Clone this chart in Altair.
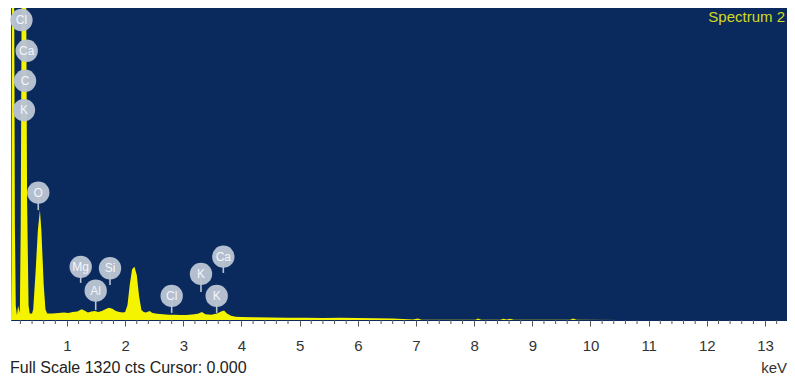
import altair as alt
import pandas as pd

# ---- spectrum (keV, counts) ----
kev = [0.038, 0.045, 0.055, 0.09, 0.105, 0.12, 0.14, 0.16, 0.19, 0.205, 0.225, 0.295,
       0.315, 0.34, 0.36, 0.40, 0.42, 0.46, 0.50, 0.535, 0.56, 0.60, 0.63, 0.66, 0.70,
       0.75, 0.85, 0.95, 1.02, 1.10, 1.18, 1.25, 1.30, 1.36, 1.42, 1.48, 1.54, 1.60,
       1.66, 1.72, 1.78, 1.84, 1.90, 1.96, 2.00, 2.04, 2.08, 2.12, 2.16, 2.20, 2.24,
       2.28, 2.32, 2.36, 2.42, 2.47, 2.55, 2.65, 2.75, 2.85, 2.95, 3.05, 3.15, 3.25,
       3.32, 3.38, 3.48, 3.58, 3.65, 3.70, 3.75, 3.82, 3.90, 4.00, 4.20, 4.50, 4.80,
       5.10, 5.40, 5.70, 6.00, 6.30, 6.60, 6.95, 7.03, 7.10, 7.50, 8.02, 8.07, 8.12,
       8.45, 8.50, 8.56, 8.62, 8.68, 9.65, 9.70, 9.76, 10.50, 13.40]
counts = [0, 200, 1600, 1600, 400, 60, 20, 60, 30, 400, 1600, 1600,
          500, 60, 28, 28, 45, 200, 380, 465, 380, 150, 45, 28, 28,
          28, 30, 32, 30, 34, 36, 46, 40, 32, 36, 38, 34, 38,
          46, 52, 48, 38, 34, 32, 34, 62, 150, 215, 225, 190, 100,
          42, 34, 32, 38, 30, 26, 24, 22, 22, 21, 21, 23, 26,
          34, 24, 22, 28, 36, 40, 28, 18, 14, 13, 12, 11, 10,
          9, 8, 9, 8, 7, 6, 2, 6, 1, 1, 1, 6, 1,
          1, 5, 2, 5, 1, 1, 6, 1, 0, 0]

# ---- element markers ----
el_name = ["Cl", "Ca", "C", "K", "O", "Mg", "Al", "Si", "Cl", "K", "Ca", "K"]
el_kev = [0.218, 0.308, 0.279, 0.261, 0.507, 1.236, 1.494, 1.740, 2.80, 3.304, 3.688, 3.574]
el_cts = [1269, 1139, 1012, 888, 539, 225, 124, 219, 102, 195, 268, 102]
el_stem = [1240, 1100, 980, 840, 465, 157, 42, 148, 30, 118, 199, 30]

major_ticks = [1, 2, 3, 4, 5, 6, 7, 8, 9, 10, 11, 12, 13]
minor_ticks = [0.2, 0.4, 0.6, 0.8, 1.2, 1.4, 1.6, 1.8, 2.2, 2.4, 2.6, 2.8, 3.2, 3.4, 3.6, 3.8,
               4.2, 4.4, 4.6, 4.8, 5.2, 5.4, 5.6, 5.8, 6.2, 6.4, 6.6, 6.8, 7.2, 7.4, 7.6, 7.8,
               8.2, 8.4, 8.6, 8.8, 9.2, 9.4, 9.6, 9.8, 10.2, 10.4, 10.6, 10.8, 11.2, 11.4,
               11.6, 11.8, 12.2, 12.4, 12.6, 12.8, 13.2]
x_domain = [0.038, 13.378]
y_domain = [0, 1320]

title_txt = ["Spectrum 2"]
footer_txt = ["Full Scale 1320 cts Cursor: 0.000"]
unit_txt = ["keV"]

NAVY = "#0a2a5d"
YELLOW = "#f4f400"
BUBBLE = "#b9c3d2"
FONT = "Liberation Sans"
W, H = 776, 312

spec = pd.DataFrame({"kev": kev, "cts": counts})
els = pd.DataFrame({"name": el_name, "kev": el_kev, "cts": el_cts, "stem": el_stem})
minors = pd.DataFrame({"kev": minor_ticks})

xs = alt.Scale(domain=x_domain, nice=False, zero=False)
ys = alt.Scale(domain=y_domain, nice=False)

x_axis = alt.Axis(
    values=major_ticks, domain=False, grid=False, format="d",
    tickSize=6, tickColor="#555555", tickWidth=1, labelOverlap=False, labelFlush=False,
    labelFont=FONT, labelFontSize=15, labelColor="#333333", labelPadding=12, title=None,
)

area = alt.Chart(spec).mark_area(color=YELLOW, clip=True, interpolate="linear").encode(
    x=alt.X("kev:Q", scale=xs, axis=x_axis),
    y=alt.Y("cts:Q", scale=ys, axis=None),
)

minor = alt.Chart(minors).mark_rule(color="#555555", strokeWidth=1).encode(
    x=alt.X("kev:Q", scale=xs), y=alt.value(H), y2=alt.value(H + 4)
)

stems = alt.Chart(els).mark_rule(color=BUBBLE, strokeWidth=1.6).encode(
    x=alt.X("kev:Q", scale=xs), y=alt.Y("cts:Q", scale=ys), y2="stem:Q"
)
bubbles = alt.Chart(els).mark_circle(size=500, color=BUBBLE, opacity=0.97).encode(
    x=alt.X("kev:Q", scale=xs), y=alt.Y("cts:Q", scale=ys)
)
bubble_txt = alt.Chart(els).mark_text(
    font=FONT, fontSize=12, color="#f3f6fa", align="center", baseline="middle"
).encode(x=alt.X("kev:Q", scale=xs), y=alt.Y("cts:Q", scale=ys), text="name:N")

title = alt.Chart(pd.DataFrame({"t": title_txt})).mark_text(
    font=FONT, fontSize=15, color="#d2dc1e", align="right", baseline="alphabetic"
).encode(x=alt.value(W - 2), y=alt.value(14), text="t:N")

footer = alt.Chart(pd.DataFrame({"t": footer_txt})).mark_text(
    font=FONT, fontSize=16, color="#222222", align="left", baseline="alphabetic"
).encode(x=alt.value(-1), y=alt.value(365), text="t:N")

unit = alt.Chart(pd.DataFrame({"t": unit_txt})).mark_text(
    font=FONT, fontSize=15, color="#333333", align="right", baseline="alphabetic"
).encode(x=alt.value(W), y=alt.value(365), text="t:N")

chart = alt.layer(area, minor, stems, bubbles, bubble_txt, title, footer, unit).properties(
    width=W, height=H,
    autosize=alt.AutoSizeParams(type="none"),
    padding={"left": 3, "top": 0, "right": 0, "bottom": 55},
    background="white",
).configure_view(fill=NAVY, stroke=NAVY)

chart.save("out.html", embed_options={"renderer": "svg", "actions": False})
